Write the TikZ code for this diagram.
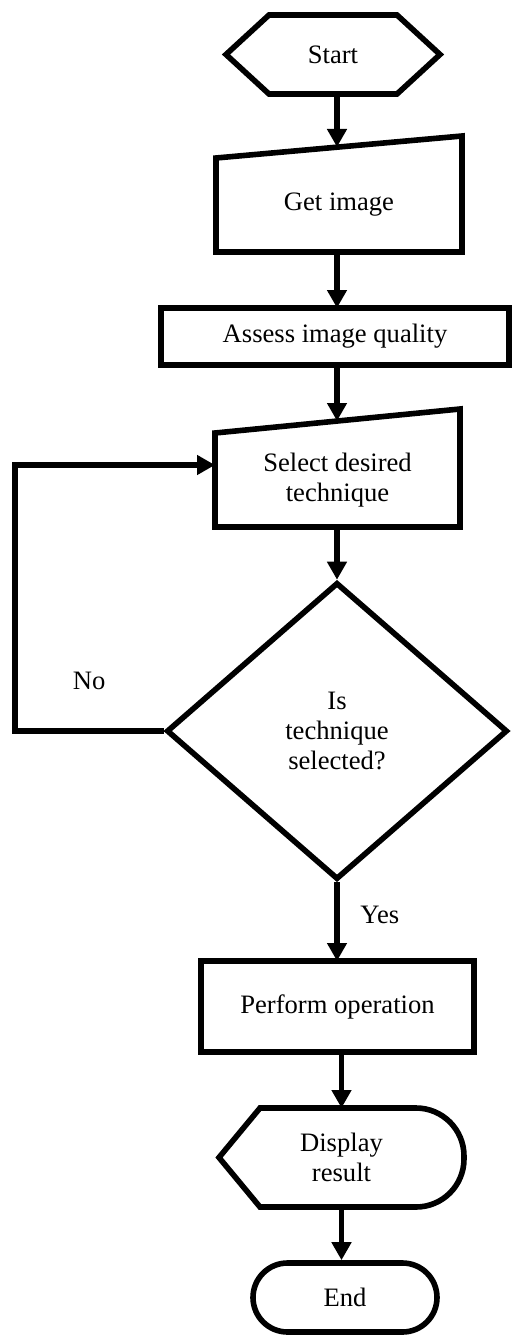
\documentclass[tikz,border=0pt]{standalone}
\usepackage{fontspec}
\setmainfont{Liberation Serif}
\usetikzlibrary{arrows.meta,calc,shapes.geometric,shapes.misc}

\begin{document}
\begin{tikzpicture}[x=0.5pt,y=-0.5pt,
    every node/.style={font=\fontsize{13.3}{15}\selectfont,align=center},
    outline/.style={draw,line width=2.8pt,line join=miter},
    blank/.style={inner sep=0pt,outer sep=0pt},
    process/.style={outline,blank},
    decision/.style={outline,diamond,inner sep=0pt},
    terminal/.style={outline,rounded rectangle,inner sep=0pt},
    arrow/.style={line width=2.8pt,-{Triangle[length=9pt,width=9.5pt]}}]
  \useasboundingbox (0,0) rectangle (515,1338);

  \node[blank,minimum width=107pt,minimum height=39.5pt] (start) at (333,54.5) {Start};
  \node[blank,minimum width=123pt,minimum height=47pt] (get) at (339,205) {Get image};
  \node[process,minimum width=174pt,minimum height=28.5pt] (assess) at (335,336.5) {Assess image quality};
  \node[blank,minimum width=122.5pt,minimum height=47pt] (select) at (337.5,480) {Select desired\\technique};
  \node[decision,minimum width=170.5pt,minimum height=148.5pt] (dec) at (337,731) {Is\\technique\\selected?};
  \node[process,minimum width=136.5pt,minimum height=45.5pt] (perform) at (337.5,1006.5) {Perform operation};
  \node[blank,minimum width=122.5pt,minimum height=49.5pt] (display) at (341.5,1157.5) {Display\\result};
  \node[terminal,minimum width=92pt,minimum height=34.5pt] (end) at (345,1297.5) {End};

  \draw[outline] (start.west) -- ($(start.north west)+(43,0)$) -- ($(start.north east)+(-43,0)$) -- (start.east)
    -- ($(start.south east)+(-43,0)$) -- ($(start.south west)+(43,0)$) -- cycle;
  \draw[outline] (get.south west) -- (get.north west) -- ($(get.north east)+(0,-22)$) -- (get.south east) -- cycle;
  \draw[outline] (select.south west) -- (select.north west) -- ($(select.north east)+(0,-24)$) -- (select.south east) -- cycle;
  \draw[outline] (display.west) -- ($(display.north west)+(41,0)$) [rounded corners=24pt] -- (display.north east)
    -- (display.south east) [sharp corners] -- ($(display.south west)+(41,0)$) -- cycle;

  \coordinate (gettop) at (337,147);
  \coordinate (seltop) at (337,421);

  \draw[arrow] (start.south -| gettop) -- (gettop);
  \draw[arrow] (get.south -| gettop) -- (assess.north -| gettop);
  \draw[arrow] (assess.south -| seltop) -- (seltop);
  \draw[arrow] (select.south -| dec.north) -- (dec.north);
  \draw[arrow] (dec.south) -- (dec.south |- perform.north) node[pos=0.42,right=7pt] {Yes};
  \draw[arrow] (dec.west) -- ++(-149,0) node[midway,above=16pt] {No} |- ($(select.west)+(0,-15)$);
  \draw[arrow] (perform.south -| display.north) -- (display.north);
  \draw[arrow] (display.south) -- (display.south |- end.north);
\end{tikzpicture}
\end{document}
